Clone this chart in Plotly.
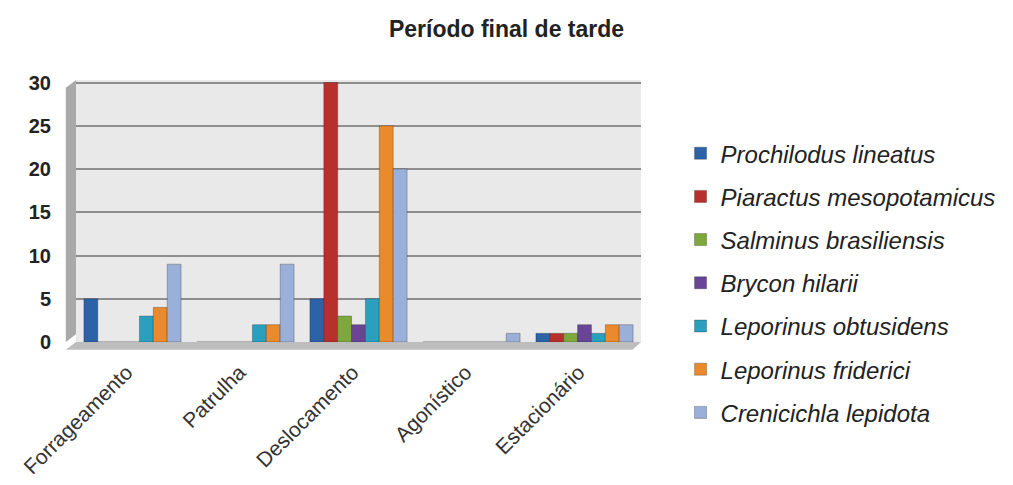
import plotly.graph_objects as go

# Behaviour categories on the x axis
categories = ["Forrageamento", "Patrulha", "Deslocamento", "Agonístico", "Estacionário"]

# Counts per species, one value per behaviour category
prochilodus_lineatus = [5, 0, 5, 0, 1]
piaractus_mesopotamicus = [0, 0, 30, 0, 1]
salminus_brasiliensis = [0, 0, 3, 0, 1]
brycon_hilarii = [0, 0, 2, 0, 2]
leporinus_obtusidens = [3, 2, 5, 0, 1]
leporinus_friderici = [4, 2, 25, 0, 2]
crenicichla_lepidota = [9, 9, 20, 1, 2]

y_ticks = [0, 5, 10, 15, 20, 25, 30]

series = [
    ("Prochilodus lineatus", prochilodus_lineatus, "#2c62a6"),
    ("Piaractus mesopotamicus", piaractus_mesopotamicus, "#b8302c"),
    ("Salminus brasiliensis", salminus_brasiliensis, "#7ea83c"),
    ("Brycon hilarii", brycon_hilarii, "#6a4597"),
    ("Leporinus obtusidens", leporinus_obtusidens, "#2aa0be"),
    ("Leporinus friderici", leporinus_friderici, "#ea8a2c"),
    ("Crenicichla lepidota", crenicichla_lepidota, "#9bb0d8"),
]

fig = go.Figure()
for name, values, color in series:
    fig.add_trace(go.Bar(
        x=categories, y=values, name=name, legendgroup=name,
        marker=dict(color=color, line=dict(color="rgba(0,0,0,0.25)", width=1)),
    ))

# Gray side wall and floor give the chart its box look
wall_color = "#a9a9a9"
fig.add_shape(type="path", xref="paper", yref="paper", layer="below",
              path="M -0.018,0.0 L 0.0,0.03 L 0.0,1.0 L -0.018,0.97 Z",
              fillcolor=wall_color, line=dict(width=0))
fig.add_shape(type="path", xref="paper", yref="paper", layer="below",
              path="M -0.018,-0.03 L 0.985,-0.03 L 1.0,0.0 L 0.0,0.0 Z",
              fillcolor="#bdbdbd", line=dict(width=0))

fig.update_layout(
    width=1013, height=485,
    paper_bgcolor="white", plot_bgcolor="#e9e9e9",
    margin=dict(l=76, r=370, t=80, b=143),
    title=dict(text="<b>Período final de tarde</b>", x=0.5, xanchor="center",
               y=0.94, yanchor="middle",
               font=dict(family="Liberation Sans, Arial", size=23, color="#222")),
    barmode="group", bargap=0.14, bargroupgap=0.0,
    font=dict(family="Liberation Sans, Arial", color="#333"),
    xaxis=dict(tickangle=-45, tickfont=dict(size=21, color="#333"),
               showline=False, ticks="", ticklabelstandoff=13,
               ticklabelshift=-6, automargin=False),
    yaxis=dict(range=[0, 30.3], tickvals=y_ticks, showgrid=True,
               gridcolor="#8e8e8e", gridwidth=2, zeroline=False,
               tickfont=dict(size=20, color="#222", weight="bold"),
               ticklabelstandoff=24, automargin=False),
    legend=dict(x=1.07, y=0.805, xanchor="left", yanchor="top",
                font=dict(size=24, color="#222", style="italic"),
                tracegroupgap=9, itemwidth=30, maxheight=440),
    showlegend=True,
)

fig.write_html("out.html")
